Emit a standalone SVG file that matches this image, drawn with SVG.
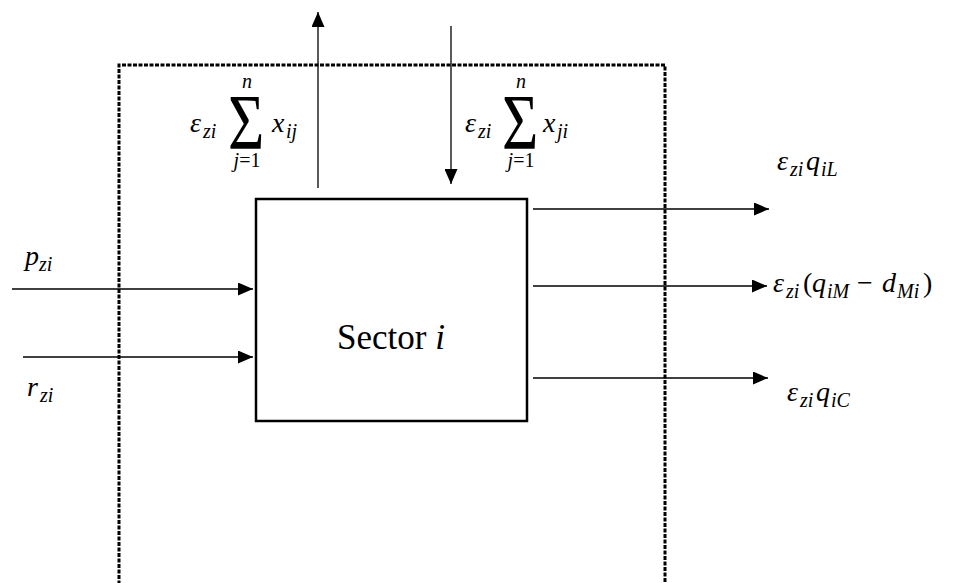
<svg xmlns="http://www.w3.org/2000/svg" width="956" height="583" viewBox="0 0 956 583">
<style>
.m{font-family:"Liberation Serif",serif;font-style:italic;font-size:28px;fill:#000}
.s{font-size:20px}
.u{font-style:normal}
.sig{font-family:"Liberation Serif",serif;font-size:78px;fill:#000}
.ln{stroke:#000;stroke-width:1.3;fill:none;marker-end:url(#ah)}
</style>
<defs>
<marker id="ah" markerUnits="userSpaceOnUse" markerWidth="16" markerHeight="13" refX="15" refY="6.5" orient="auto">
<path d="M0,0 L15,6.5 L0,13 z" fill="#000"/>
</marker>
</defs>
<rect width="956" height="583" fill="#fff"/>
<g id="boundary">
<path d="M119,590 V65 H665 V590" fill="none" stroke="#000" stroke-width="3" stroke-dasharray="4 1.5"/>
</g>
<g id="sector">
<rect x="256" y="199" width="271" height="222" fill="#fff" stroke="#000" stroke-width="2.5"/>
<text x="391" y="349" text-anchor="middle" font-family="Liberation Serif, serif" font-size="35">Sector <tspan font-style="italic">i</tspan></text>
</g>
<g id="connectors">
<path class="ln" d="M318,188 L318,12"/>
<path class="ln" d="M451,26 L451,184"/>
<path class="ln" d="M533,209 L769,209"/>
<path class="ln" d="M533,286 L767,286"/>
<path class="ln" d="M533,378 L768,378"/>
<path class="ln" d="M12,289 L253,289"/>
<path class="ln" d="M23,357 L253,357"/>
</g>
<g id="label-out-sum">
<text class="m" x="190" y="132">ε<tspan class="s" x="203" dy="6">zi</tspan></text>
<text class="sig" transform="translate(228,148) scale(0.8,1)">Σ</text>
<text class="m s" x="247" y="88" text-anchor="middle">n</text>
<text class="m s" x="247" y="167" text-anchor="middle">j<tspan class="u">=1</tspan></text>
<text class="m" x="272" y="132">x<tspan class="s" x="286" dy="6">ij</tspan></text>
</g>
<g id="label-in-sum">
<text class="m" x="465" y="132">ε<tspan class="s" x="478" dy="6">zi</tspan></text>
<text class="sig" transform="translate(502,148) scale(0.8,1)">Σ</text>
<text class="m s" x="521" y="88" text-anchor="middle">n</text>
<text class="m s" x="521" y="167" text-anchor="middle">j<tspan class="u">=1</tspan></text>
<text class="m" x="543" y="132">x<tspan class="s" x="557" dy="6">ji</tspan></text>
</g>
<g id="label-p">
<text class="m" x="25" y="265">p<tspan class="s" x="39" dy="6">zi</tspan></text>
</g>
<g id="label-r">
<text class="m" x="27" y="396">r<tspan class="s" x="40" dy="6">zi</tspan></text>
</g>
<g id="label-L">
<text class="m" x="777" y="170">ε<tspan class="s" x="790" dy="6">zi</tspan><tspan x="806" dy="-6">q</tspan><tspan class="s" x="821" dy="6">iL</tspan></text>
</g>
<g id="label-M">
<text class="m" x="773" y="292">ε<tspan class="s" x="786" dy="6">zi</tspan><tspan class="u" x="803" dy="-6">(</tspan><tspan x="812">q</tspan><tspan class="s" x="827" dy="6">iM</tspan><tspan class="u" x="857" dy="-6">−</tspan><tspan x="882">d</tspan><tspan class="s" x="897" dy="6">Mi</tspan><tspan class="u" x="923" dy="-6">)</tspan></text>
</g>
<g id="label-C">
<text class="m" x="787" y="401">ε<tspan class="s" x="800" dy="6">zi</tspan><tspan x="816" dy="-6">q</tspan><tspan class="s" x="831" dy="6">iC</tspan></text>
</g>
</svg>
